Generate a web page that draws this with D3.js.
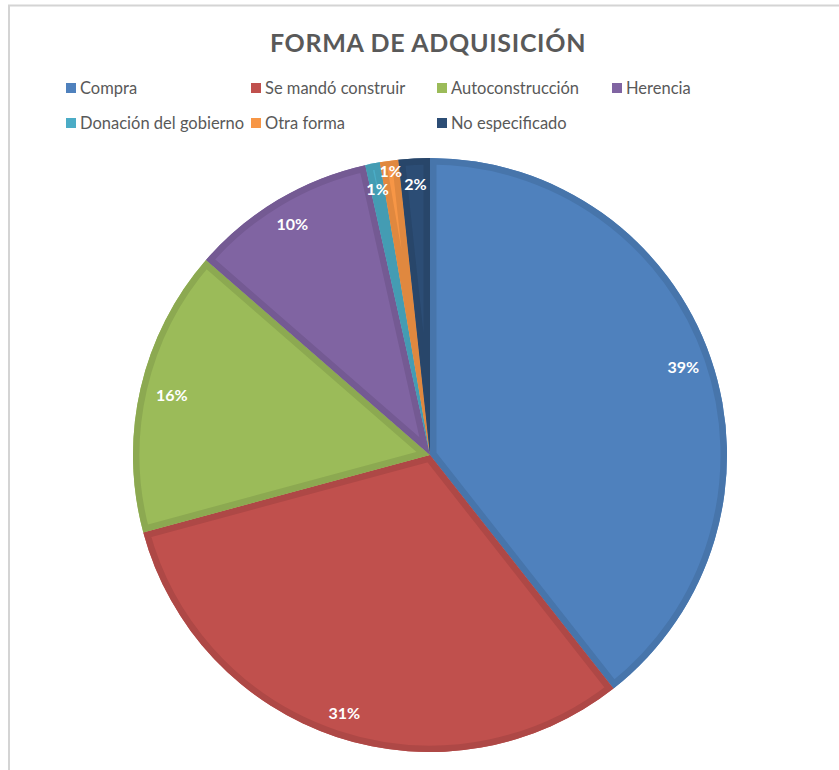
<!DOCTYPE html>
<html><head><meta charset="utf-8">
<script src="https://cdn.jsdelivr.net/npm/d3@7"></script>
<style>
html,body{margin:0;padding:0;background:#fff;}
svg{display:block;font-family:Lato,"Open Sans",sans-serif;}
</style></head>
<body>
<svg id="chart" width="839" height="770"></svg>
<script>
const categories = ["Compra","Se mandó construir","Autoconstrucción","Herencia","Donación del gobierno","Otra forma","No especificado"];
const values = [39.4, 31.4, 15.6, 10.1, 0.8, 1.0, 1.7];
const labels = ["39%","31%","16%","10%","1%","1%","2%"];
const colors = ["#4F81BD","#C0504D","#9BBB59","#8064A2","#4BACC6","#F79646","#2C4D75"];
const title = "FORMA DE ADQUISICIÓN";

const svg = d3.select("#chart");

// frame
svg.append("path").attr("d","M9,770 V5.5 H839").attr("fill","none").attr("stroke","#d4d4d4").attr("stroke-width",2);

svg.append("text").attr("x",428).attr("y",52).attr("text-anchor","middle")
  .attr("font-size",25).attr("font-weight","bold").attr("fill","#595959").attr("letter-spacing",0.7).text(title);

// legend
const colX = [66,251,437,612];
const rowY = [88,123];
const leg = svg.append("g");
categories.forEach((c,i)=>{
  const r = i<4?0:1, col = i<4?i:i-4;
  const g = leg.append("g").attr("transform",`translate(${colX[col]},${rowY[r]})`);
  g.append("rect").attr("x",0).attr("y",-5).attr("width",10).attr("height",10).attr("fill",colors[i]);
  g.append("text").attr("x",14).attr("y",0).attr("dy","0.35em").attr("font-size",16.5).attr("fill","#595959").text(c);
});

const cx = 430, cy = 455, R = 297;
const pie = d3.pie().sort(null).value(d=>d)(values);
const arc = d3.arc().innerRadius(0).outerRadius(R);
const g = svg.append("g").attr("transform",`translate(${cx},${cy})`);
const defs = svg.append("defs");
pie.forEach((p,i)=>{
  defs.append("clipPath").attr("id","clip"+i).append("path").attr("d",arc(p));
});
g.selectAll("path.slice").data(pie).join("path").attr("class","slice")
  .attr("d",arc).attr("fill",(d,i)=>colors[i]);
g.selectAll("path.edge").data(pie).join("path").attr("class","edge")
  .attr("d",arc).attr("fill","none")
  .attr("stroke",(d,i)=>d3.color(colors[i]).darker(0.28))
  .attr("stroke-width",13).attr("stroke-linejoin","miter")
  .attr("clip-path",(d,i)=>`url(#clip${i})`);

// labels
const labelR = [268,272,265,269,271,286,271];
pie.forEach((p,i)=>{
  const a = (p.startAngle+p.endAngle)/2;
  const r = labelR[i];
  g.append("text").attr("x",Math.sin(a)*r).attr("y",-Math.cos(a)*r)
    .attr("text-anchor","middle").attr("dy","0.35em")
    .attr("font-size",16).attr("font-weight","bold").attr("fill","#fff").text(labels[i]);
});
</script>
</body></html>
